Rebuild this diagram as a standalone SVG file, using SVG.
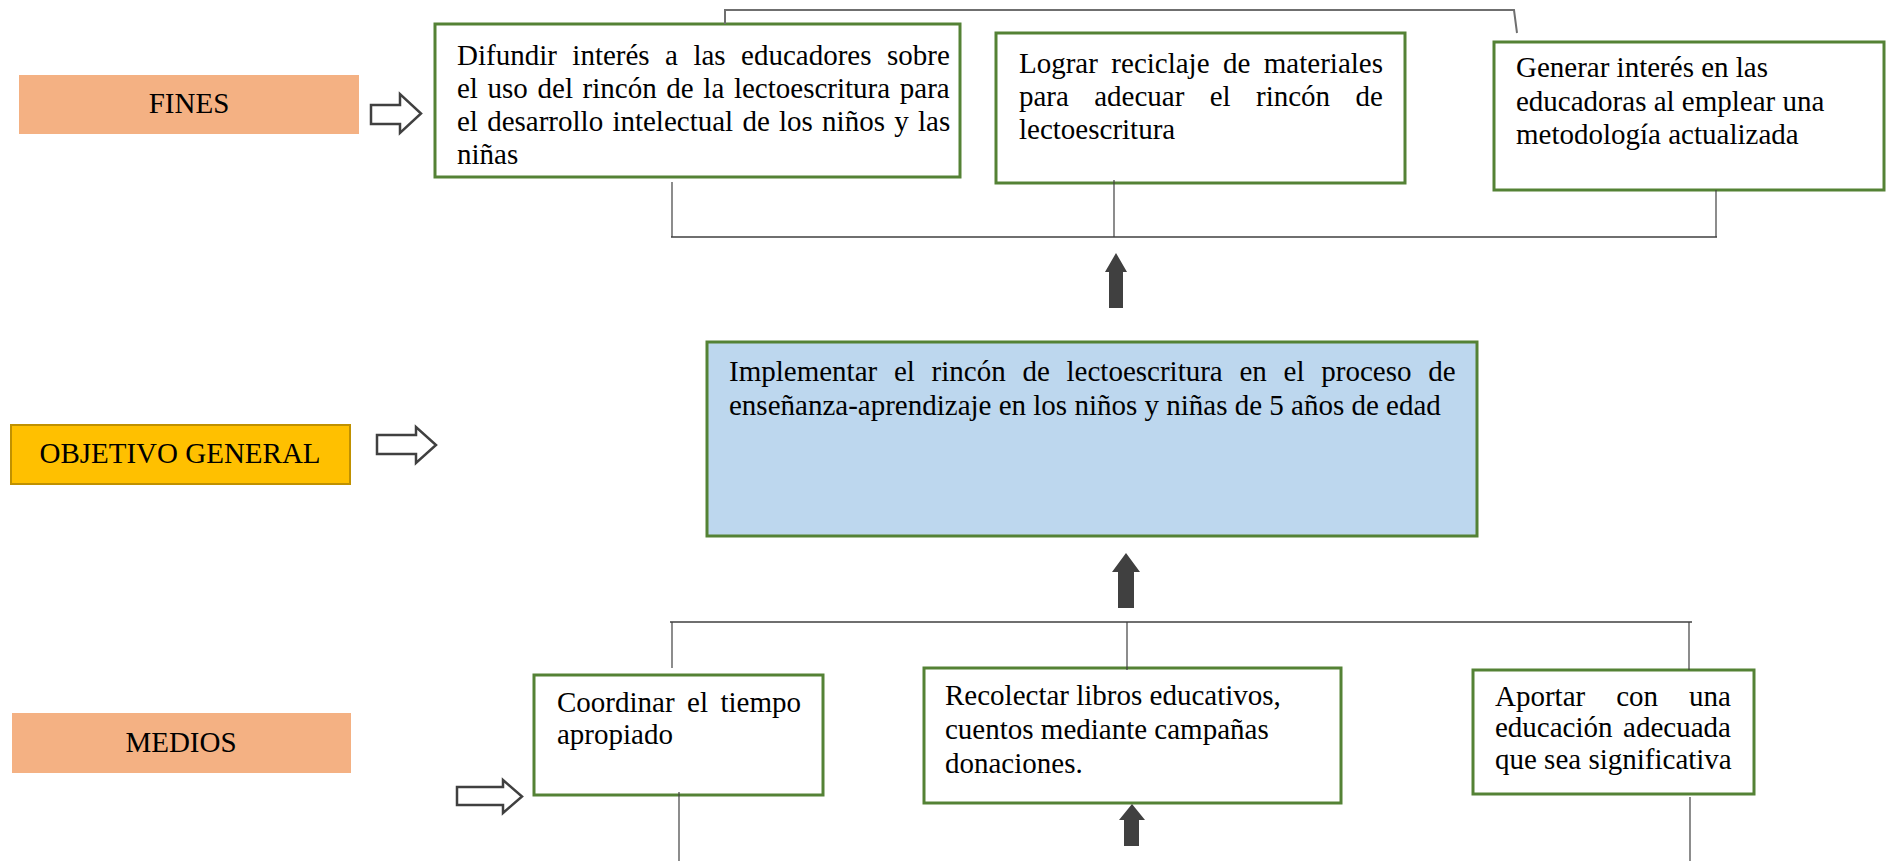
<svg xmlns="http://www.w3.org/2000/svg" width="1889" height="861" viewBox="0 0 1889 861">
<style>
.t{font-family:"Liberation Serif","Times New Roman",serif;font-size:29px;fill:#000}
.lbl{font-family:"Liberation Serif","Times New Roman",serif;font-size:29px;fill:#000;text-anchor:middle}
.box{fill:#fff;stroke:#548235;stroke-width:3}
.hollow{fill:#fff;stroke:#404040;stroke-width:2.5;stroke-linejoin:miter}
.solid{fill:#404040;stroke:none}
.hl{stroke:#6f6f6f;stroke-width:2;fill:none}
.vl{stroke:#404040;stroke-width:1.2;fill:none}
</style>
<rect width="1889" height="861" fill="#fff"/>

<g id="label-fines">
<rect x="19" y="75" width="340" height="59" fill="#F4B183"/>
<text class="lbl" x="189" y="113">FINES</text>
</g>
<g id="label-objetivo">
<rect x="11" y="425" width="339" height="59" fill="#FFC000" stroke="#C09100" stroke-width="2"/>
<text class="lbl" x="180" y="463">OBJETIVO GENERAL</text>
</g>
<g id="label-medios">
<rect x="12" y="713" width="339" height="60" fill="#F4B183"/>
<text class="lbl" x="181" y="752">MEDIOS</text>
</g>

<g id="fin1">
<rect class="box" x="435" y="24" width="525" height="153"/>
<text class="t"><tspan x="457" y="65" word-spacing="8.2">Difundir interés a las educadores sobre</tspan><tspan x="457" y="98" word-spacing="2.4">el uso del rincón de la lectoescritura para</tspan><tspan x="457" y="131" word-spacing="2">el desarrollo intelectual de los niños y las</tspan><tspan x="457" y="164">niñas</tspan></text>
</g>
<g id="fin2">
<rect class="box" x="996" y="33" width="409" height="150"/>
<text class="t"><tspan x="1019" y="73" word-spacing="6.2">Lograr reciclaje de materiales</tspan><tspan x="1019" y="106" word-spacing="18.1">para adecuar el rincón de</tspan><tspan x="1019" y="139">lectoescritura</tspan></text>
</g>
<g id="fin3">
<rect class="box" x="1494" y="42" width="390" height="148"/>
<text class="t"><tspan x="1516" y="77">Generar interés en las</tspan><tspan x="1516" y="111">educadoras al emplear una</tspan><tspan x="1516" y="144">metodología actualizada</tspan></text>
</g>

<g id="objetivo">
<rect x="707" y="342" width="770" height="194" fill="#BDD7EE" stroke="#548235" stroke-width="3"/>
<text class="t"><tspan x="729" y="381" word-spacing="9.5">Implementar el rincón de lectoescritura en el proceso de</tspan><tspan x="729" y="415">enseñanza-aprendizaje en los niños y niñas de 5 años de edad</tspan></text>
</g>

<g id="medio1">
<rect class="box" x="534" y="675" width="289" height="120"/>
<text class="t"><tspan x="557" y="712" word-spacing="5.2">Coordinar el tiempo</tspan><tspan x="557" y="744">apropiado</tspan></text>
</g>
<g id="medio2">
<rect class="box" x="924" y="668" width="417" height="135"/>
<text class="t"><tspan x="945" y="705">Recolectar libros educativos,</tspan><tspan x="945" y="739">cuentos mediante campañas</tspan><tspan x="945" y="773">donaciones.</tspan></text>
</g>
<g id="medio3">
<rect class="box" x="1473" y="670" width="281" height="124"/>
<text class="t"><tspan x="1495" y="706" word-spacing="23.7">Aportar con una</tspan><tspan x="1495" y="737" word-spacing="3.3">educación adecuada</tspan><tspan x="1495" y="769">que sea significativa</tspan></text>
</g>

<g id="connectors">
<polyline class="hl" points="725,24 725,10 1514,10 1517,33"/>
<line class="hl" x1="671" y1="237" x2="1717" y2="237"/>
<line class="vl" x1="672" y1="182" x2="672" y2="237"/>
<line class="vl" x1="1114" y1="180" x2="1114" y2="237"/>
<line class="vl" x1="1716" y1="190" x2="1716" y2="237"/>
<line class="hl" x1="670" y1="622" x2="1692" y2="622"/>
<line class="vl" x1="672" y1="622" x2="672" y2="668"/>
<line class="vl" x1="1127" y1="622" x2="1127" y2="670"/>
<line class="vl" x1="1689" y1="622" x2="1689" y2="670"/>
<line class="vl" x1="679" y1="792" x2="679" y2="861"/>
<line class="vl" x1="1690" y1="797" x2="1690" y2="861"/>
<polygon class="hollow" points="371,105 400,105 400,94 421,113.5 400,133 400,124 371,124"/>
<polygon class="hollow" points="377,435 416,435 416,427 436,445 416,463 416,454 377,454"/>
<polygon class="hollow" points="457,787 503,787 503,780 522,796.5 503,813 503,805 457,805"/>
<polygon class="solid" points="1116,253 1127,272 1123,272 1123,308 1109,308 1109,272 1105,272"/>
<polygon class="solid" points="1126,553 1140,572 1134,572 1134,608 1118,608 1118,572 1112,572"/>
<polygon class="solid" points="1132,804 1145,820 1139,820 1139,846 1124,846 1124,820 1119,820"/>
</g>
</svg>
